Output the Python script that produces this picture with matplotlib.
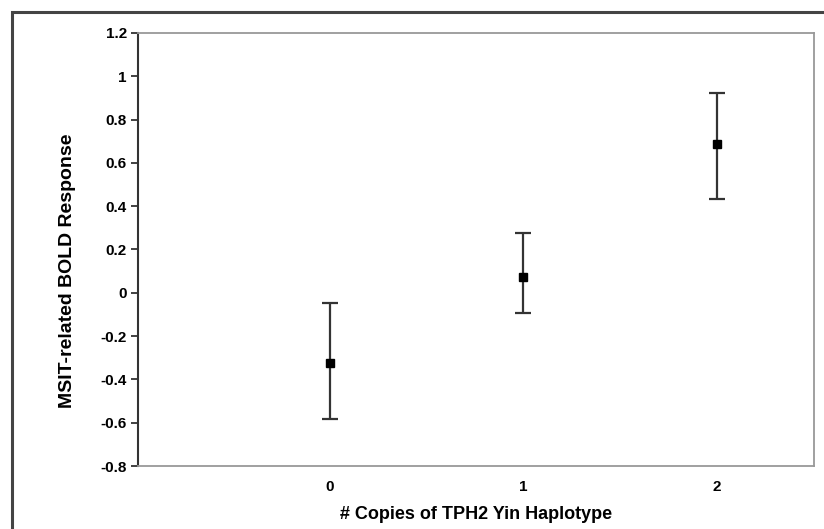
import matplotlib.pyplot as plt
from matplotlib.patches import Rectangle

plt.rcParams['font.family'] = ['Liberation Sans', 'DejaVu Sans']

copies = [0, 1, 2]
bold_mean = [-0.323, 0.074, 0.687]
err_low = [-0.584, -0.095, 0.433]
err_high = [-0.046, 0.275, 0.924]
yticks = [-0.8, -0.6, -0.4, -0.2, 0, 0.2, 0.4, 0.6, 0.8, 1, 1.2]

lower = [m - lo for m, lo in zip(bold_mean, err_low)]
upper = [hi - m for m, hi in zip(bold_mean, err_high)]

fig = plt.figure(figsize=(8.24, 5.29), dpi=100)
ax = fig.add_axes([138/824, 1 - 466/529, (814 - 138)/824, (466 - 33)/529])

ax.errorbar(copies, bold_mean, yerr=[lower, upper], fmt='s', color='black',
            ecolor='#333333', elinewidth=1.6, capsize=6, capthick=1.6,
            markersize=6)

ax.set_xlim(-0.99, 2.5)
ax.set_ylim(-0.8, 1.2)
ax.set_yticks(yticks)
ax.set_yticklabels(['%g' % t for t in yticks], fontweight='bold', fontsize=11)
ax.set_xticks(copies)
ax.set_xticklabels([str(c) for c in copies], fontweight='bold', fontsize=11)
ax.tick_params(axis='x', length=0, pad=10)
ax.tick_params(axis='y', length=5, width=1.3, color='#333333', pad=3)

for side in ['top', 'right', 'bottom']:
    ax.spines[side].set_color('#999999')
    ax.spines[side].set_linewidth(1.3)
ax.spines['left'].set_color('#333333')
ax.spines['left'].set_linewidth(1.5)

ax.set_ylabel('MSIT-related BOLD Response', fontweight='bold', fontsize=14)
ax.yaxis.set_label_coords(-0.092, 0.45)
ax.set_xlabel('# Copies of TPH2 Yin Haplotype', fontweight='bold', fontsize=13, labelpad=9)

# outer frame, running off the right and bottom edges
fig.patches.append(Rectangle((12/824, -0.1), 1.2, 1 - 12/529 + 0.1,
                             transform=fig.transFigure, fill=False,
                             edgecolor='#444444', linewidth=2.2))

fig.savefig('out.png', dpi=100)
